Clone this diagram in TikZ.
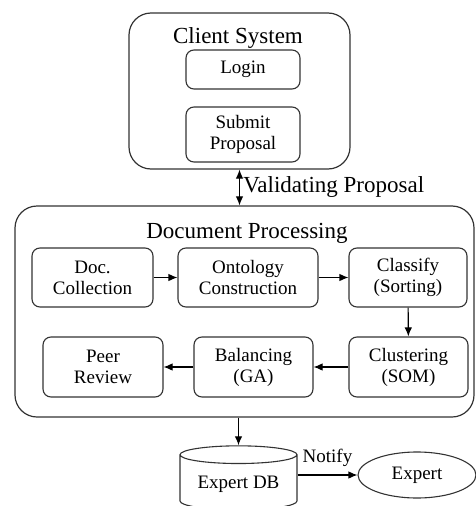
\documentclass[tikz,border=0pt]{standalone}
\usepackage{fontspec}
\setmainfont{Liberation Serif}
\usetikzlibrary{shapes.geometric,arrows.meta}

\begin{document}
\begin{tikzpicture}[x=1pt, y=-1pt, >={Latex[length=9pt,width=7.5pt]},
    frame/.style={draw=black!80, line width=1.2pt, rounded corners=22pt},
    box/.style={draw=black!80, line width=1.1pt, rounded corners=8pt, align=center,
                inner sep=0pt, font=\fontsize{19}{21}\selectfont},
    title/.style={font=\fontsize{23}{25}\selectfont},
    link/.style={->, line width=1.1pt}]
                    \clip (0,0) rectangle (476,506);

                    % client side
                    \node[frame, minimum width=221, minimum height=156] (client) at (239.5,91) {};
                    \node[title] (clienttitle) at (238,38) {Client System};
                    \node[box, minimum width=114, minimum height=39] (login) at (243,69.5) {Login};
                    \node[box, minimum width=114, minimum height=55] (submit) at (243,134.5) {Submit\\Proposal};

                    % processing
                    \node[frame, minimum width=459, minimum height=211] (docproc) at (244.5,311.5) {};
                    \node[title] (proctitle) at (247,233) {Document Processing};
                    \node[box, minimum width=121, minimum height=59] (doc) at (92.5,277.5) {Doc.\\Collection};
                    \node[box, minimum width=140, minimum height=59] (onto) at (248,277.5) {Ontology\\Construction};
                    \node[box, minimum width=118, minimum height=59] (classify) at (408,277.5) {Classify\\(Sorting)};
                    \node[box, minimum width=120, minimum height=60] (peer) at (103,367) {Peer\\Review};
                    \node[box, minimum width=119, minimum height=60] (balance) at (253.5,367) {Balancing\\(GA)};
                    \node[box, minimum width=119, minimum height=60] (cluster) at (408.5,367) {Clustering\\(SOM)};

                    \draw[link] (doc) -- (onto);
                    \draw[link] (onto) -- (classify);
                    \draw[link] (classify) -- (cluster);
                    \draw[link] (cluster) -- (balance);
                    \draw[link] (balance) -- (peer);

                    % storage
                    \node[cylinder, shape border rotate=90, aspect=0.2, draw=black!80, line width=1.1pt,
                          minimum width=117, minimum height=64, font=\fontsize{19}{21}\selectfont] (db) at (238.5,484) {Expert DB};
                    \node[ellipse, draw=black!80, line width=1.1pt, minimum width=118, minimum height=46,
                          inner sep=0pt, font=\fontsize{19}{21}\selectfont] (expert) at (417,475) {Expert};

                    \draw[<->, line width=1.1pt] (client.south) -- (client.south |- docproc.north)
                        node[midway, right, font=\fontsize{23}{25}\selectfont] {Validating Proposal};
                    \draw[link] (db.north |- docproc.south) -- (db.north);
                    \draw[link] (db.east |- expert.west) -- node[above=5pt, font=\fontsize{19}{21}\selectfont] {Notify} (expert.west);

                \end{tikzpicture}
\end{document}
